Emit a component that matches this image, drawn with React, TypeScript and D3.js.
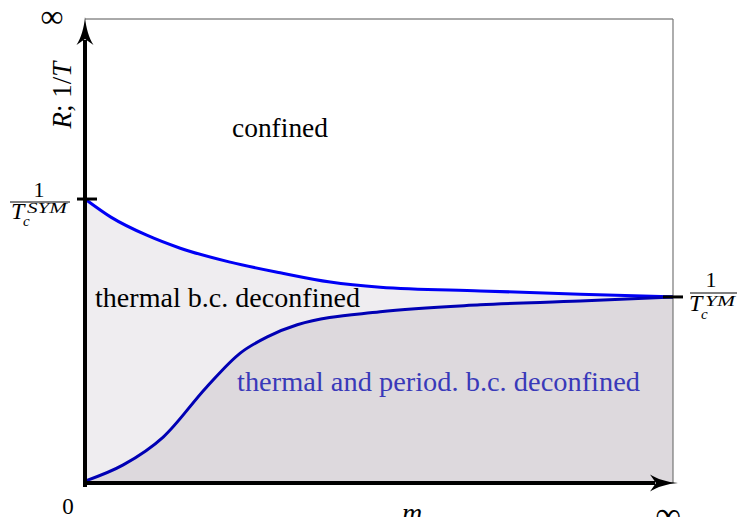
import React from "react";
import * as d3 from "d3";

// normalized coordinates: x in [0,1] (m from 0 to ∞), y in [0,1] (R;1/T from 0 to ∞)
const upperX = [0, 0.044, 0.105, 0.162, 0.247, 0.332, 0.417, 0.502, 0.672, 0.842, 1.0];
const upperY = [0.612, 0.573, 0.534, 0.506, 0.476, 0.453, 0.433, 0.422, 0.414, 0.407, 0.401];
const lowerX = [0, 0.065, 0.133, 0.207, 0.264, 0.31, 0.361, 0.502, 0.672, 0.842, 1.0];
const lowerY = [0.004, 0.039, 0.099, 0.207, 0.28, 0.315, 0.341, 0.369, 0.384, 0.392, 0.401];
const tSYM = 0.612;
const tYM = 0.401;
const regionLabels = ["confined", "thermal b.c. deconfined", "thermal and period. b.c. deconfined"];

const W = 737, H = 517;
const x0 = 85, x1 = 673, y0 = 483, y1 = 19;

export default function App() {
  const x = d3.scaleLinear().domain([0, 1]).range([x0, x1]);
  const y = d3.scaleLinear().domain([0, 1]).range([y0, y1]);
  const upper = upperX.map((v, i) => [v, upperY[i]] as [number, number]);
  const lower = lowerX.map((v, i) => [v, lowerY[i]] as [number, number]);
  const line = d3.line<[number, number]>().x(d => x(d[0])).y(d => y(d[1])).curve(d3.curveMonotoneX);
  const area = d3.area<[number, number]>().x(d => x(d[0])).y0(y(0)).y1(d => y(d[1])).curve(d3.curveMonotoneX);
  const serif = '"Liberation Serif", "Times New Roman", serif';
  const ySYM = y(tSYM), yYM = y(tYM);
  return (
    <svg width={W} height={H} style={{ position: "absolute", left: 0, top: 0, background: "#fff" }}>
      <path d={area(upper) || ""} fill="#efedf0" />
      <path d={area(lower) || ""} fill="#ddd9dd" />
      {/* thin frame */}
      <line x1={x0} y1={y1} x2={x1} y2={y1} stroke="#555" strokeWidth={1} />
      <line x1={x1} y1={y1} x2={x1} y2={y0} stroke="#777" strokeWidth={1.2} />
      <path d={line(upper) || ""} fill="none" stroke="#0000f5" strokeWidth={3} />
      <path d={line(lower) || ""} fill="none" stroke="#0000b4" strokeWidth={3} />
      {/* axes */}
      <line x1={x(0)} y1={y(0) + 4} x2={x(0)} y2={40} stroke="#000" strokeWidth={4} />
      <path d={`M${x0},17 C${x0 + 1},28 ${x0 + 4},38 ${x0 + 8.5},45 L${x0},39 L${x0 - 8.5},45 C${x0 - 4},38 ${x0 - 1},28 ${x0},17 Z`} fill="#000" />
      <line x1={x(0) - 2} y1={y(0)} x2={655} y2={y(0)} stroke="#000" strokeWidth={4} />
      <path d={`M678,${y0} C667,${y0 + 1} 657,${y0 + 4} 650,${y0 + 8.5} L656,${y0} L650,${y0 - 8.5} C657,${y0 - 4} 667,${y0 - 1} 678,${y0} Z`} fill="#000" />
      {/* ticks */}
      <line x1={77} y1={ySYM} x2={97} y2={ySYM} stroke="#000" strokeWidth={3} />
      <line x1={663} y1={yYM} x2={683} y2={yYM} stroke="#000" strokeWidth={3} />
      <g style={{ fontFamily: serif }}>
        {/* left fraction */}
        <text x={39} y={197} fontSize={22} textAnchor="middle">1</text>
        <line x1={10} y1={202} x2={70} y2={202} stroke="#000" strokeWidth={1} />
        <text x={11} y={219} fontSize={24} fontStyle="italic">T</text>
        <text x={23} y={226} fontSize={15} fontStyle="italic">c</text>
        <text x={27} y={213} fontSize={15} fontStyle="italic" textLength={40} lengthAdjust="spacingAndGlyphs">SYM</text>
        {/* right fraction */}
        <text x={711} y={287} fontSize={22} textAnchor="middle">1</text>
        <line x1={690} y1={293} x2={737} y2={293} stroke="#000" strokeWidth={1} />
        <text x={689} y={311} fontSize={24} fontStyle="italic">T</text>
        <text x={701} y={319} fontSize={15} fontStyle="italic">c</text>
        <text x={705} y={306} fontSize={15} fontStyle="italic" textLength={30} lengthAdjust="spacingAndGlyphs">YM</text>
        {/* axis labels */}
        <text x={52} y={27} fontSize={32} textAnchor="middle">∞</text>
        <text transform="translate(71,95) rotate(-90)" fontSize={27} textAnchor="middle">
          <tspan fontStyle="italic">R</tspan>; 1/<tspan fontStyle="italic">T</tspan>
        </text>
        <text x={68} y={514} fontSize={23} textAnchor="middle">0</text>
        <text x={412} y={522} fontSize={28} fontStyle="italic" textAnchor="middle">m</text>
        <text x={668} y={527} fontSize={36} textAnchor="middle">∞</text>
        {/* region labels */}
        <text x={232} y={137} fontSize={27.5} textLength={96} lengthAdjust="spacingAndGlyphs">{regionLabels[0]}</text>
        <text x={95} y={307} fontSize={27.5} textLength={265} lengthAdjust="spacingAndGlyphs">{regionLabels[1]}</text>
        <text x={237} y={391} fontSize={26.5} fill="#3939b9" textLength={403} lengthAdjust="spacingAndGlyphs">{regionLabels[2]}</text>
      </g>
    </svg>
  );
}
